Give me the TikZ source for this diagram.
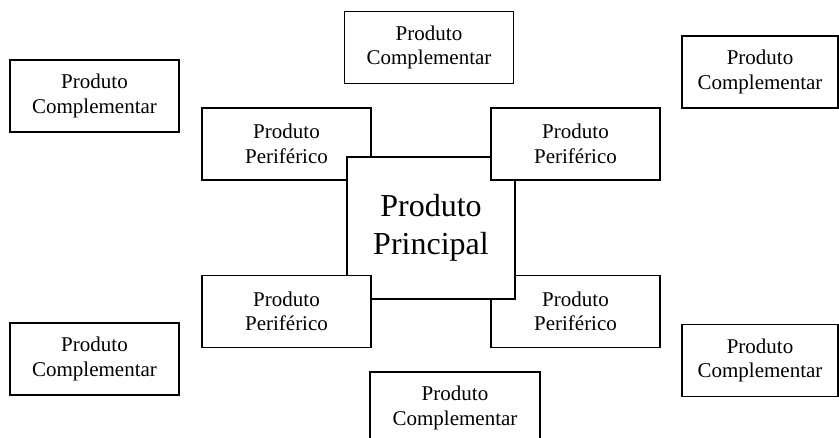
\documentclass[tikz,border=0pt]{standalone}
\usepackage{fontspec}
\setmainfont{Liberation Serif}
\begin{document}
\begin{tikzpicture}[x=1pt,y=-1pt,
  box/.style={draw=black, fill=white, line width=1.8pt, inner sep=0pt,
    align=center, font=\fontsize{21}{24.5}\selectfont},
  compbox/.style={box, minimum width=169pt, minimum height=72pt},
  peribox/.style={box, minimum width=169pt, minimum height=72pt},
  mainbox/.style={box, minimum width=168pt, minimum height=142pt,
    font=\fontsize{32}{38}\selectfont}]
\useasboundingbox (0,0) rectangle (839,438);
% complementary products around the outside
\node[compbox] (ctl) at (94.5,96) {Produto\\Complementar};
\node[compbox] (ct)  at (429,47.5) {Produto\\Complementar};
\node[compbox, minimum width=156pt] (ctr) at (760,72) {Produto\\Complementar};
\node[compbox] (cbl) at (94.5,359) {Produto\\Complementar};
\node[compbox, minimum width=170pt] (cb)  at (455,408) {Produto\\Complementar};
\node[compbox, minimum width=156pt] (cbr) at (760,360.5) {Produto\\Complementar};
% peripheral products, layered around the main product
\node[peribox] (ptl) at (286.5,144) {Produto\\Periférico};
\node[peribox] (pbr) at (575.5,311.5) {Produto\\Periférico};
\node[mainbox] (main) at (431,228) {Produto\\Principal};
\node[peribox] (ptr) at (575.5,144) {Produto\\Periférico};
\node[peribox] (pbl) at (286.5,311.5) {Produto\\Periférico};
\end{tikzpicture}
\end{document}
